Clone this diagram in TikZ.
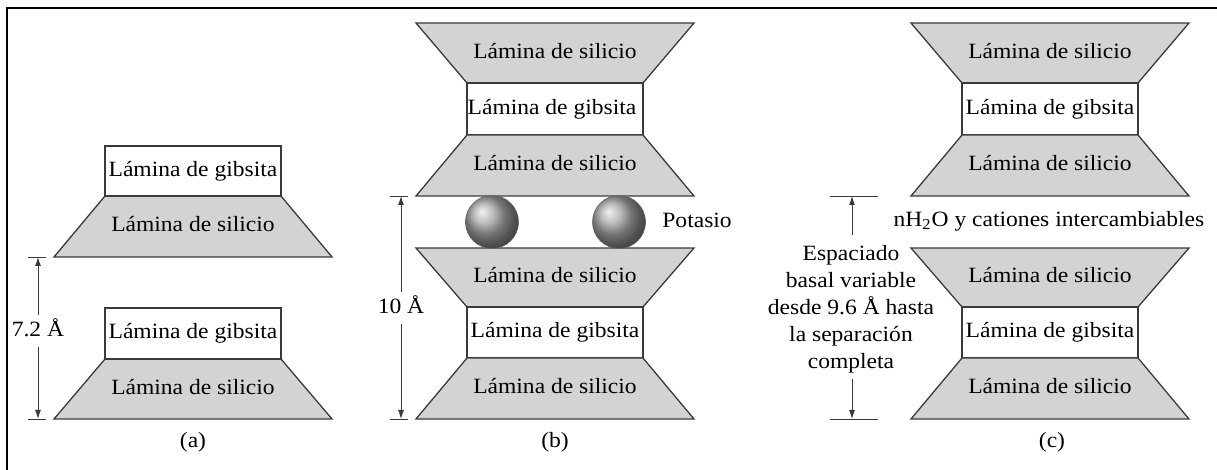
\documentclass[tikz,border=0pt]{standalone}
\usepackage{fontspec}
\setmainfont{Liberation Serif}[FakeStretch=1.08]
\usetikzlibrary{arrows.meta}
\definecolor{silfill}{HTML}{D3D3D3}
\definecolor{edgec}{HTML}{3A3A3A}
\definecolor{ballc}{HTML}{A6A6A6}
\newcommand\silUp[3]{\filldraw[sil] ({#3-88},#1) -- ({#3+88},#1) -- ({#3+139},#2) -- ({#3-139},#2) -- cycle;}
\newcommand\silDown[3]{\filldraw[sil] ({#3-139},#1) -- ({#3+139},#1) -- ({#3+88},#2) -- ({#3-88},#2) -- cycle;}
\newcommand\gibBox[3]{\filldraw[gib] ({#3-88},#1) rectangle ({#3+88},#2);}
\begin{document}
\begin{tikzpicture}[x=0.5pt,y=-0.5pt,
  sil/.style={fill=silfill,draw=edgec,line width=0.65pt,line join=miter},
  gib/.style={fill=white,draw=edgec,line width=0.65pt},
  lbl/.style={font=\fontsize{10.9}{13.5}\selectfont,inner sep=0pt,text height=8pt,text depth=2.5pt},
  dimlab/.style={lbl,inner xsep=1pt,inner ysep=2.5pt},
  dim/.style={draw=edgec,line width=0.45pt,-{Latex[length=4.5pt,width=3pt]}},
  tickline/.style={draw=edgec,line width=0.45pt},
  sphere/.style={circle,inner sep=0pt,minimum size=26.5pt,ball color=ballc,draw=edgec!80,line width=0.3pt}]
\useasboundingbox (0,0) rectangle (1217,470);
\draw[line width=1pt] (7,470) -- (7,8.5) -- (1217,8.5);

% ---------- (a) ----------
\silUp{196}{257}{193}
\gibBox{146}{196}{193}
\silUp{359}{419}{193}
\gibBox{308}{359}{193}
\node[lbl] (ag1) at (193,171) {Lámina de gibsita};
\node[lbl] (as1) at (193,226.5) {Lámina de silicio};
\node[lbl] (ag2) at (193,333.5) {Lámina de gibsita};
\node[lbl] (as2) at (193,389) {Lámina de silicio};
\coordinate (aT) at (38,257);
\coordinate (aB) at (38,419);
\draw[tickline] (28,257) -- (46,257);
\draw[tickline] (28,419) -- (46,419);
\node[dimlab] (adim) at (38,331) {7.2 Å};
\draw[dim] (adim) -- (aT);
\draw[dim] (adim) -- (aB);
\node[lbl] (alab) at (193,442) {(a)};

% ---------- (b) ----------
\silDown{23}{83}{555}
\gibBox{83}{135}{555}
\silUp{135}{196}{555}
\silDown{248}{307}{555}
\gibBox{307}{358}{555}
\silUp{358}{419}{555}
\node[lbl] (bs1) at (555,53) {Lámina de silicio};
\node[lbl] (bg1) at (552,109) {Lámina de gibsita};
\node[lbl] (bs2) at (555,165.5) {Lámina de silicio};
\node[lbl] (bs3) at (555,277.5) {Lámina de silicio};
\node[lbl] (bg2) at (555,332.5) {Lámina de gibsita};
\node[lbl] (bs4) at (555,388.5) {Lámina de silicio};
\node[sphere] (k1) at (492,222) {};
\node[sphere] (k2) at (619,222) {};
\node[lbl,anchor=west] (kl) at (662,222) {Potasio};
\coordinate (bT) at (401,196);
\coordinate (bB) at (401,419);
\draw[tickline] (390,196) -- (408,196);
\draw[tickline] (390,419) -- (408,419);
\node[dimlab] (bdim) at (401,308) {10 Å};
\draw[dim] (bdim) -- (bT);
\draw[dim] (bdim) -- (bB);
\node[lbl] (blab) at (555,442) {(b)};

% ---------- (c) ----------
\silDown{23}{83}{1050}
\gibBox{83}{135}{1050}
\silUp{135}{196}{1050}
\silDown{248}{307}{1050}
\gibBox{307}{358}{1050}
\silUp{358}{419}{1050}
\node[lbl] (cs1) at (1050,53) {Lámina de silicio};
\node[lbl] (cg1) at (1050,109) {Lámina de gibsita};
\node[lbl] (cs2) at (1050,165.5) {Lámina de silicio};
\node[lbl] (cs3) at (1050,277.5) {Lámina de silicio};
\node[lbl] (cg2) at (1050,332.5) {Lámina de gibsita};
\node[lbl] (cs4) at (1050,388.5) {Lámina de silicio};
\node[lbl] (ions) at (1049,221) {nH\textsubscript{2}O y cationes intercambiables};
\coordinate (cT) at (852,196);
\coordinate (cB) at (852,419);
\draw[tickline] (830,196) -- (878,196);
\draw[tickline] (830,419) -- (878,419);
\node[lbl,align=center,text height=,text depth=] (esp) at (851,309)
  {Espaciado\\basal variable\\desde 9.6 Å hasta\\la separación\\completa};
\draw[dim,shorten <=5pt] (esp.north -| cT) -- (cT);
\draw[dim,shorten <=3pt] (esp.south -| cB) -- (cB);
\node[lbl] (clab) at (1052,442) {(c)};
\end{tikzpicture}
\end{document}
